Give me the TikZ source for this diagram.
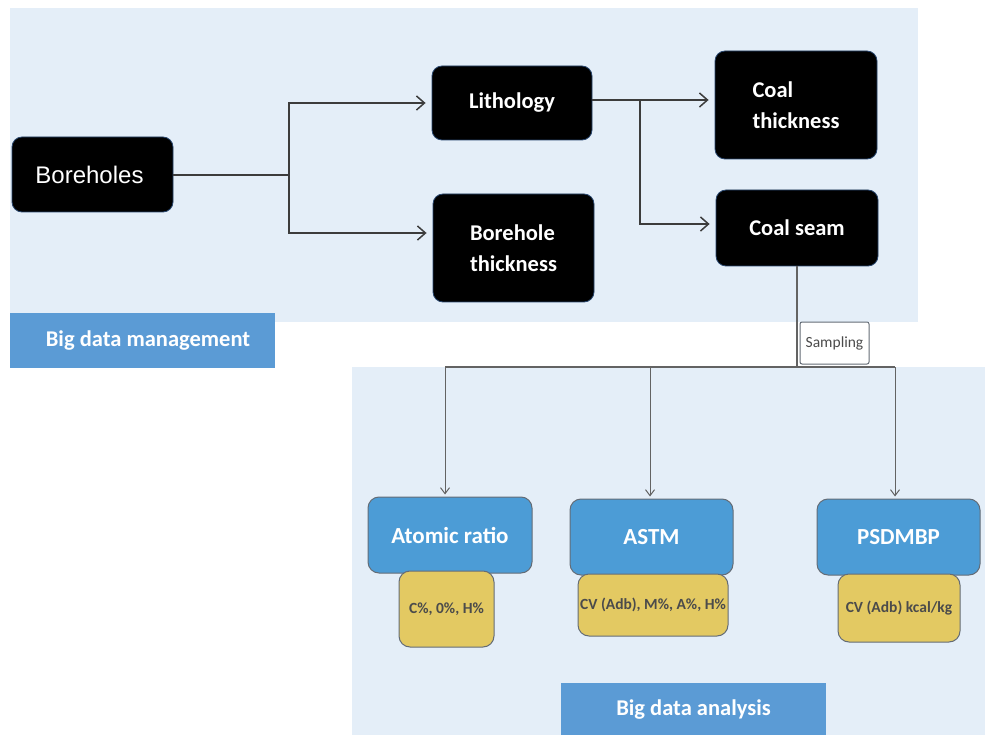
\documentclass[tikz,border=0pt]{standalone}
\usepackage{fontspec}
\setmainfont{Carlito}
\newfontfamily\arialf{Liberation Sans}
\usetikzlibrary{arrows.meta}
\definecolor{bgblue}{RGB}{228,238,248}
\definecolor{boxblue}{RGB}{76,156,214}
\definecolor{lblblue}{RGB}{91,155,213}
\definecolor{boxyel}{RGB}{227,201,98}
\definecolor{edgegray}{RGB}{100,108,118}
\definecolor{linegray}{RGB}{60,60,60}
\definecolor{txtgray}{RGB}{75,75,75}
\tikzset{
  blackbox/.style={rectangle, rounded corners=10pt, fill=black, draw={rgb,255:red,40;green,70;blue,110}, line width=0.8pt,
    text=white, font=\bfseries\fontsize{22.5}{31}\selectfont, align=left, inner sep=0pt},
  bluebox/.style={rectangle, rounded corners=11pt, fill=boxblue, draw=edgegray, line width=1pt,
    text=white, font=\bfseries\fontsize{23}{27}\selectfont, inner sep=0pt},
  yelbox/.style={rectangle, rounded corners=11pt, fill=boxyel, draw=edgegray, line width=1pt,
    text=txtgray, font=\bfseries\fontsize{15.5}{18}\selectfont, inner sep=0pt},
  lblbox/.style={rectangle, fill=lblblue, draw=none, text=white, font=\bfseries\fontsize{22.5}{27}\selectfont, inner sep=0pt},
  sampbox/.style={rectangle, rounded corners=2pt, fill=white, draw=edgegray, line width=1pt, text=txtgray,
    font=\fontsize{15.5}{18}\selectfont, inner sep=0pt},
  arrtop/.style={draw=linegray, line width=1.5pt, -{Straight Barb[length=8pt,width=14pt,line width=1.5pt]}, shorten >=6pt},
  linetop/.style={draw=linegray, line width=1.5pt},
  arrbot/.style={draw=linegray!80, line width=1pt, -{Straight Barb[length=6pt,width=9pt,line width=1pt]}, shorten >=2pt},
  linebot/.style={draw=linegray!80, line width=1.1pt},
}
\begin{document}
\begin{tikzpicture}[x=1pt,y=-1pt]
\useasboundingbox (0,0) rectangle (985,735);
\fill[white] (0,0) rectangle (985,735);
% backgrounds
\fill[bgblue] (10,8) rectangle (918,322);
\fill[bgblue] (352,367) rectangle (985,735);

% top nodes
\node[blackbox, minimum width=161pt, minimum height=75pt] (bh) at (92.5,174.5) {\arialf\mdseries\fontsize{24}{28}\selectfont Boreholes\hspace*{6pt}};
\node[blackbox, minimum width=160pt, minimum height=74pt] (lith) at (512,103) {Lithology};
\node[blackbox, minimum width=161pt, minimum height=108pt] (bt) at (513.5,248) {Borehole\\thickness};
\node[blackbox, minimum width=162pt, minimum height=108pt] (ct) at (796,105) {Coal\\thickness};
\node[blackbox, minimum width=162pt, minimum height=76pt] (cs) at (797,228) {Coal seam};

\node[lblbox, minimum width=265pt, minimum height=55pt] (bdm) at (142.5,340.5) {\hspace*{11pt}Big data management};
\node[lblbox, minimum width=265pt, minimum height=54pt] (bda) at (693.5,710) {Big data analysis};

% bottom nodes
\node[bluebox, minimum width=164pt, minimum height=76pt] (ar) at (450,535) {Atomic ratio};
\node[yelbox, minimum width=95pt, minimum height=76pt] (y1) at (446.5,609) {C\%, 0\%, H\%};
\node[bluebox, minimum width=163pt, minimum height=76pt] (astm) at (651.5,537) {ASTM};
\node[yelbox, minimum width=150pt, minimum height=62pt] (y2) at (653,605) {CV (Adb), M\%, A\%, H\%};
\node[bluebox, minimum width=163pt, minimum height=76pt] (psd) at (898.5,537) {PSDMBP};
\node[yelbox, minimum width=122pt, minimum height=68pt] (y3) at (899,608) {CV (Adb) kcal/kg};

% connectors top
\coordinate (j1) at (289,175);
\draw[linetop] (bh.east |- j1) -- (j1);
\draw[arrtop] (j1) |- (lith.west);
\draw[arrtop] (j1) |- ([yshift=15pt]bt.west);
\coordinate (j2) at (640,100);
\draw[arrtop] (lith.east |- j2) -- (ct.west |- j2);
\draw[arrtop] (j2) |- ([yshift=4pt]cs.west);

% connectors bottom
\coordinate (j3) at (797,367);
\coordinate (a1) at (445,367);
\coordinate (a2) at (650,367);
\coordinate (a3) at (895,367);
\draw[linebot] (cs.south) -- (j3);
\draw[linebot] (a1) -- (a3);
\draw[arrbot] (a1) -- (a1 |- ar.north);
\draw[arrbot] (a2) -- (a2 |- astm.north);
\draw[arrbot] (a3) -- (a3 |- psd.north);

\node[sampbox, minimum width=69pt, minimum height=42pt] (samp) at (834.5,343) {Sampling};
\end{tikzpicture}
\end{document}
